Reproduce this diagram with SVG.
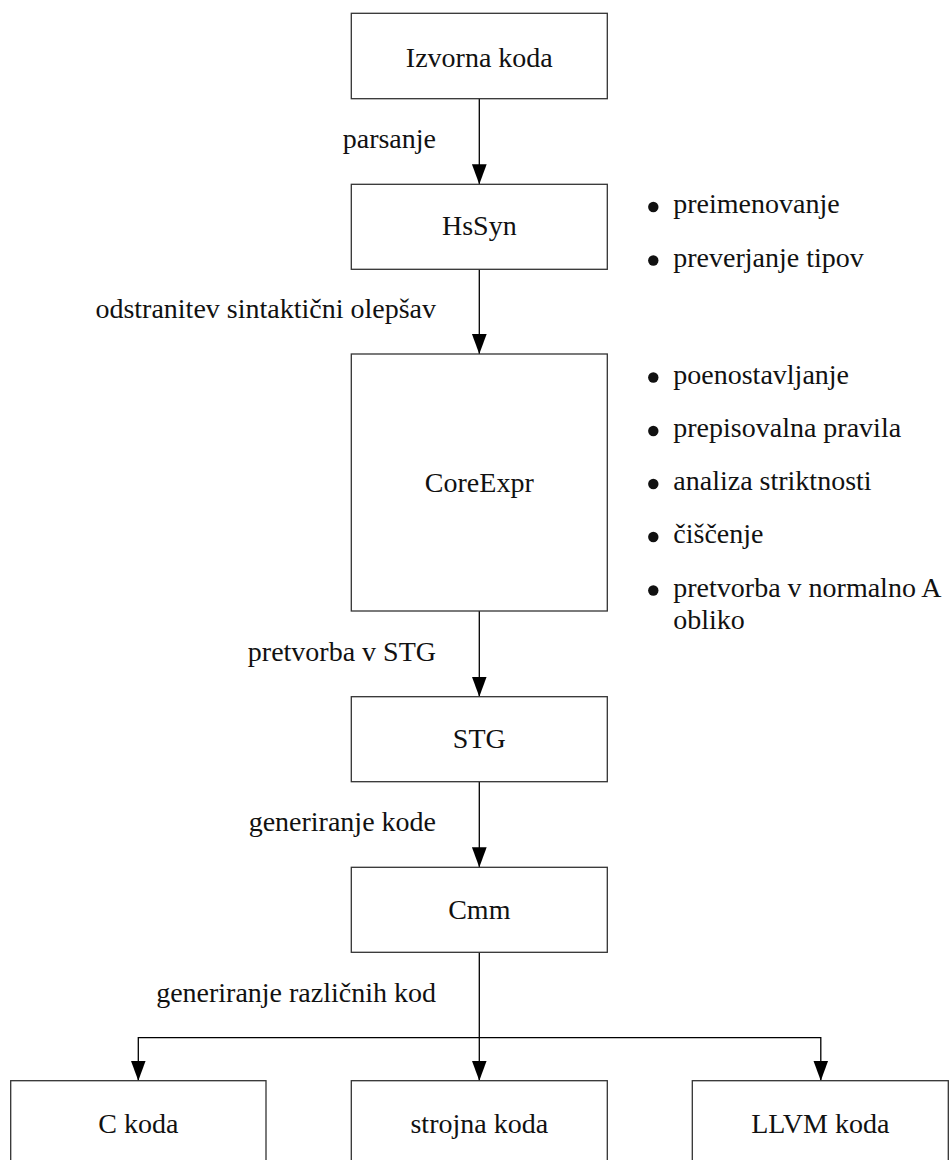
<svg xmlns="http://www.w3.org/2000/svg" width="949" height="1160" viewBox="0 0 949 1160" font-family="Liberation Serif, serif">
<style>
.box{fill:#fff;stroke:#333;stroke-width:1.3}
.t{font-family:Liberation Serif, Times New Roman, serif;font-size:28px;fill:#111}
.c{text-anchor:middle}
.e{text-anchor:end}
.ln{fill:none;stroke:#000;stroke-width:1.3}
.dot{fill:#111}
</style>
<defs>
<marker id="ah" markerUnits="userSpaceOnUse" markerWidth="20" markerHeight="16" refX="19" refY="7" orient="auto" viewBox="0 0 19 14">
<path d="M0,0 L19,7 L0,14 Z" fill="#000"/>
</marker>
</defs>
<rect width="949" height="1160" fill="#fff"/>
<g id="connectors">
<line class="ln" x1="479.3" y1="98.7" x2="479.3" y2="184.3" marker-end="url(#ah)"/>
<line class="ln" x1="479.3" y1="269.3" x2="479.3" y2="354" marker-end="url(#ah)"/>
<line class="ln" x1="479.3" y1="611" x2="479.3" y2="696.7" marker-end="url(#ah)"/>
<line class="ln" x1="479.3" y1="781.7" x2="479.3" y2="867.3" marker-end="url(#ah)"/>
<line class="ln" x1="479.3" y1="952.3" x2="479.3" y2="1080.7" marker-end="url(#ah)"/>
<polyline class="ln" points="479.3,1037.7 138.3,1037.7 138.3,1080.7" marker-end="url(#ah)"/>
<polyline class="ln" points="479.3,1037.7 820.8,1037.7 820.8,1080.7" marker-end="url(#ah)"/>
<text class="t e" x="436" y="148">parsanje</text>
<text class="t e" x="436" y="318">odstranitev sintaktični olepšav</text>
<text class="t e" x="436" y="661">pretvorba v STG</text>
<text class="t e" x="436" y="831">generiranje kode</text>
<text class="t e" x="436" y="1002">generiranje različnih kod</text>
</g>
<g id="izvorna">
<rect class="box" x="351.3" y="13.3" width="256" height="85.4"/>
<text class="t c" x="479.3" y="66.5">Izvorna koda</text>
</g>
<g id="hssyn">
<rect class="box" x="351.3" y="184.3" width="256" height="85"/>
<text class="t c" x="479.3" y="234.5">HsSyn</text>
</g>
<g id="hssyn-notes">
<circle class="dot" cx="653.3" cy="207" r="5.2"/>
<text class="t" x="673.3" y="213.3">preimenovanje</text>
<circle class="dot" cx="653.3" cy="260.5" r="5.2"/>
<text class="t" x="673.3" y="266.7">preverjanje tipov</text>
</g>
<g id="coreexpr">
<rect class="box" x="351.3" y="354" width="256" height="257"/>
<text class="t c" x="479.3" y="492">CoreExpr</text>
</g>
<g id="coreexpr-notes">
<circle class="dot" cx="653.3" cy="377.5" r="5.2"/>
<text class="t" x="673.3" y="383.5">poenostavljanje</text>
<circle class="dot" cx="653.3" cy="431" r="5.2"/>
<text class="t" x="673.3" y="437">prepisovalna pravila</text>
<circle class="dot" cx="653.3" cy="484" r="5.2"/>
<text class="t" x="673.3" y="490">analiza striktnosti</text>
<circle class="dot" cx="653.3" cy="537" r="5.2"/>
<text class="t" x="673.3" y="543">čiščenje</text>
<circle class="dot" cx="653.3" cy="590.5" r="5.2"/>
<text class="t" x="673.3" y="596.5">pretvorba v normalno A</text>
<text class="t" x="673.3" y="628.5">obliko</text>
</g>
<g id="stg">
<rect class="box" x="351.3" y="696.7" width="256" height="85"/>
<text class="t c" x="479.3" y="748">STG</text>
</g>
<g id="cmm">
<rect class="box" x="351.3" y="867.3" width="256" height="85"/>
<text class="t c" x="479.3" y="919">Cmm</text>
</g>
<g id="ckoda">
<rect class="box" x="10.7" y="1080.7" width="255.3" height="85"/>
<text class="t c" x="138.3" y="1132.5">C koda</text>
</g>
<g id="strojna">
<rect class="box" x="351.3" y="1080.7" width="256" height="85"/>
<text class="t c" x="479.3" y="1132.5">strojna koda</text>
</g>
<g id="llvm">
<rect class="box" x="692.3" y="1080.7" width="256" height="85"/>
<text class="t c" x="820.3" y="1132.5">LLVM koda</text>
</g>
</svg>
